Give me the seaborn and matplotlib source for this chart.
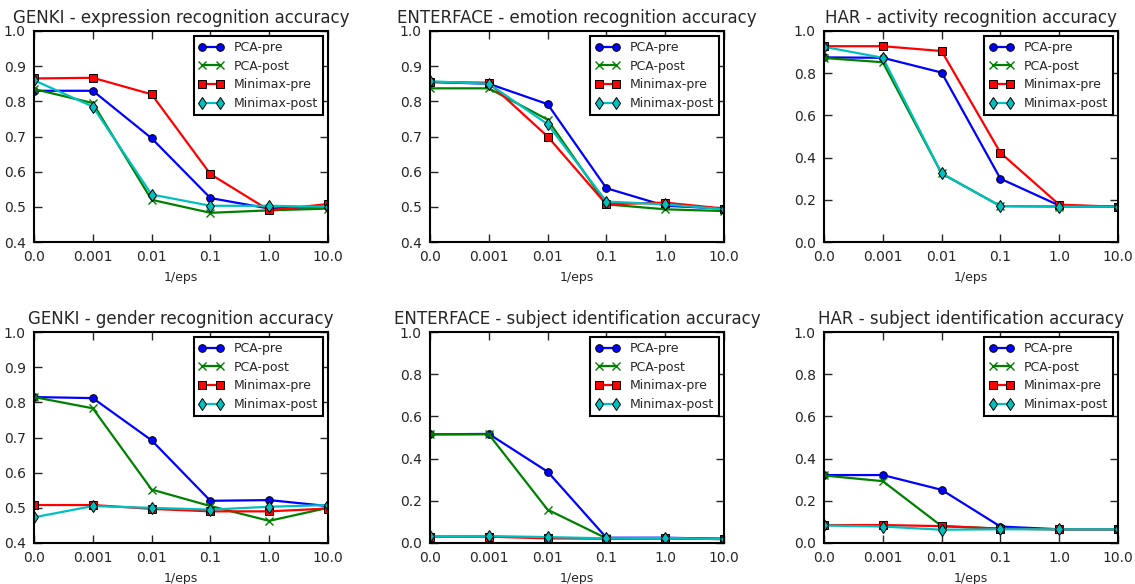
import matplotlib
matplotlib.use("Agg")
import matplotlib.pyplot as plt
import seaborn as sns
import numpy as np

x_labels = ["0.0", "0.001", "0.01", "0.1", "1.0", "10.0"]
series_names = ["PCA-pre", "PCA-post", "Minimax-pre", "Minimax-post"]

titles = [
    "GENKI - expression recognition accuracy",
    "ENTERFACE - emotion recognition accuracy",
    "HAR - activity recognition accuracy",
    "GENKI - gender recognition accuracy",
    "ENTERFACE - subject identification accuracy",
    "HAR - subject identification accuracy",
]

# GENKI expression
genki_expr_pca_pre = [0.830, 0.830, 0.695, 0.525, 0.495, 0.500]
genki_expr_pca_post = [0.835, 0.795, 0.520, 0.483, 0.490, 0.495]
genki_expr_mm_pre = [0.865, 0.867, 0.820, 0.593, 0.490, 0.508]
genki_expr_mm_post = [0.860, 0.785, 0.535, 0.503, 0.503, 0.500]

# ENTERFACE emotion
ent_emo_pca_pre = [0.855, 0.850, 0.792, 0.553, 0.503, 0.495]
ent_emo_pca_post = [0.837, 0.837, 0.748, 0.507, 0.493, 0.488]
ent_emo_mm_pre = [0.855, 0.853, 0.700, 0.507, 0.512, 0.495]
ent_emo_mm_post = [0.857, 0.850, 0.735, 0.515, 0.507, 0.493]

# HAR activity
har_act_pca_pre = [0.875, 0.873, 0.803, 0.300, 0.173, 0.167]
har_act_pca_post = [0.872, 0.852, 0.325, 0.170, 0.168, 0.167]
har_act_mm_pre = [0.928, 0.928, 0.905, 0.423, 0.177, 0.167]
har_act_mm_post = [0.925, 0.873, 0.325, 0.170, 0.168, 0.167]

# GENKI gender
genki_gen_pca_pre = [0.815, 0.812, 0.692, 0.520, 0.522, 0.505]
genki_gen_pca_post = [0.815, 0.783, 0.552, 0.505, 0.463, 0.500]
genki_gen_mm_pre = [0.508, 0.508, 0.497, 0.490, 0.490, 0.498]
genki_gen_mm_post = [0.473, 0.505, 0.500, 0.495, 0.503, 0.508]

# ENTERFACE subject
ent_sub_pca_pre = [0.515, 0.517, 0.338, 0.025, 0.025, 0.020]
ent_sub_pca_post = [0.515, 0.515, 0.158, 0.022, 0.022, 0.020]
ent_sub_mm_pre = [0.030, 0.030, 0.022, 0.020, 0.022, 0.018]
ent_sub_mm_post = [0.032, 0.033, 0.028, 0.022, 0.024, 0.018]

# HAR subject
har_sub_pca_pre = [0.322, 0.322, 0.252, 0.078, 0.065, 0.065]
har_sub_pca_post = [0.320, 0.293, 0.080, 0.068, 0.065, 0.065]
har_sub_mm_pre = [0.085, 0.085, 0.080, 0.068, 0.065, 0.065]
har_sub_mm_post = [0.083, 0.078, 0.063, 0.065, 0.065, 0.065]

panels = [
    [genki_expr_pca_pre, genki_expr_pca_post, genki_expr_mm_pre, genki_expr_mm_post],
    [ent_emo_pca_pre, ent_emo_pca_post, ent_emo_mm_pre, ent_emo_mm_post],
    [har_act_pca_pre, har_act_pca_post, har_act_mm_pre, har_act_mm_post],
    [genki_gen_pca_pre, genki_gen_pca_post, genki_gen_mm_pre, genki_gen_mm_post],
    [ent_sub_pca_pre, ent_sub_pca_post, ent_sub_mm_pre, ent_sub_mm_post],
    [har_sub_pca_pre, har_sub_pca_post, har_sub_mm_pre, har_sub_mm_post],
]
ylims = [(0.4, 1.0), (0.4, 1.0), (0.0, 1.0), (0.4, 1.0), (0.0, 1.0), (0.0, 1.0)]

colors = ["#0000ff", "#008000", "#ff0000", "#00bfbf"]
markers = ["o", "x", "s", "d"]

sns.set_style("white", {
    "xtick.direction": "in", "ytick.direction": "in",
    "xtick.top": True, "ytick.right": True,
    "xtick.bottom": True, "ytick.left": True,
    "axes.edgecolor": "black",
})
plt.rcParams["font.family"] = ["DejaVu Sans"]
plt.rcParams["xtick.major.size"] = 6
plt.rcParams["ytick.major.size"] = 6
plt.rcParams["xtick.major.width"] = 1.0
plt.rcParams["ytick.major.width"] = 1.0

fig = plt.figure(figsize=(11.35, 5.84), dpi=100)
lefts = [34, 430, 824]
tops = [31, 332]
W, H = 294, 211
xs = np.arange(len(x_labels))

for i, (data, title, yl) in enumerate(zip(panels, titles, ylims)):
    r, c = divmod(i, 3)
    ax = fig.add_axes([lefts[c] / 1135, 1 - (tops[r] + H) / 584, W / 1135, H / 584])
    for name, vals, col, mk in zip(series_names, data, colors, markers):
        if mk == "x":
            kw = dict(markeredgecolor=col, markersize=5.5, markeredgewidth=1.0)
        else:
            kw = dict(markeredgecolor="black", markersize=5.5 if mk != "d" else 6,
                      markeredgewidth=0.7)
        sns.lineplot(x=xs, y=vals, ax=ax, color=col, marker=mk, label=name,
                     linewidth=1.6, markerfacecolor=col, **kw)
    ax.set_xlim(0, 5)
    ax.set_ylim(*yl)
    ax.set_xticks(xs)
    ax.set_xticklabels(x_labels)
    if yl[0] == 0.4:
        ax.set_yticks(np.arange(0.4, 1.01, 0.1))
    else:
        ax.set_yticks(np.arange(0.0, 1.01, 0.2))
    ax.set_yticklabels([f"{v:.1f}" for v in ax.get_yticks()])
    ax.tick_params(labelsize=10, pad=6)
    for s in ax.spines.values():
        s.set_linewidth(1.5)
        s.set_color("black")
    ax.set_title(title, fontsize=12, pad=6)
    ax.set_xlabel("1/eps", fontsize=9, labelpad=5)
    ax.set_ylabel("")
    leg = ax.legend(loc="upper right", fontsize=9, numpoints=2, fancybox=False,
                    framealpha=1, edgecolor="black", borderaxespad=0.4,
                    handlelength=2.0, labelspacing=0.45)
    leg.get_frame().set_linewidth(1.5)

fig.savefig("out.png", dpi=100)
